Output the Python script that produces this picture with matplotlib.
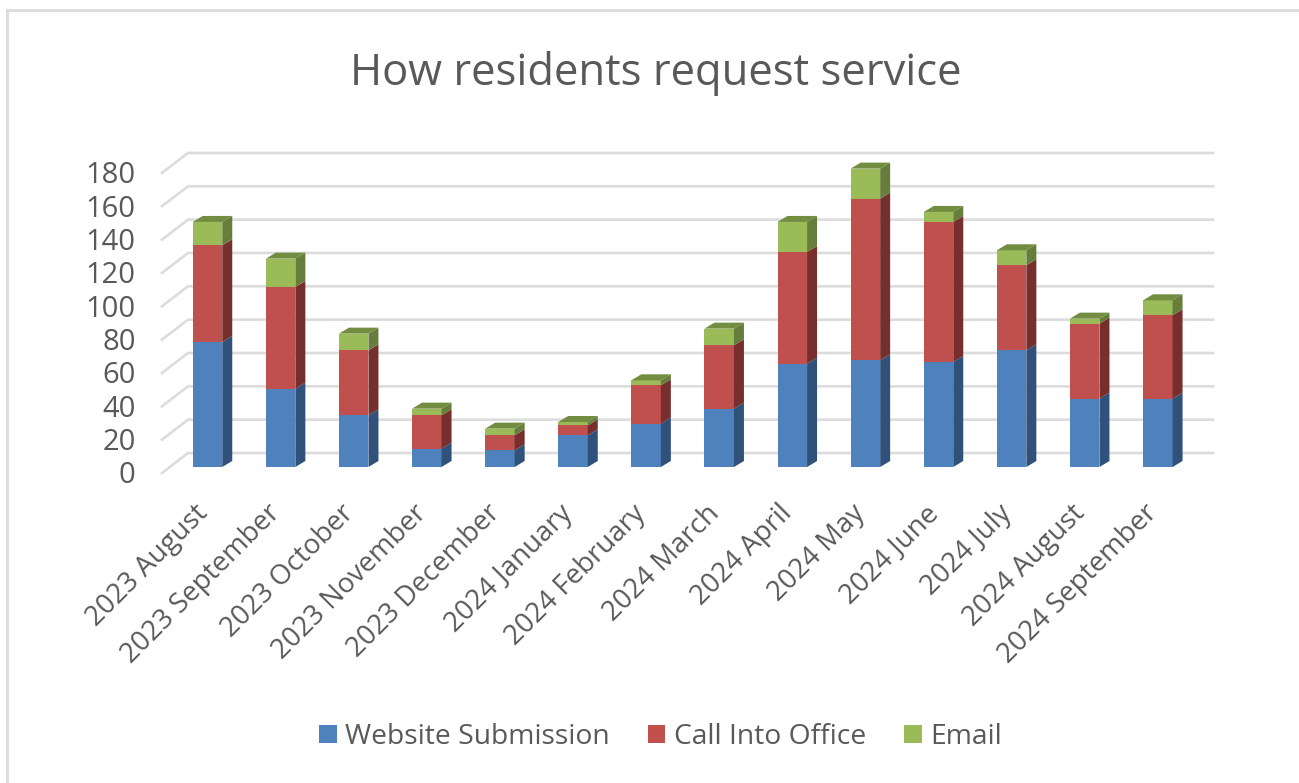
import matplotlib
matplotlib.use("Agg")
import matplotlib.pyplot as plt
from matplotlib.lines import Line2D
from matplotlib.patches import Patch
from matplotlib.transforms import ScaledTranslation
import numpy as np

plt.rcParams['font.family'] = ['Open Sans', 'DejaVu Sans']

categories = ["2023 August", "2023 September", "2023 October", "2023 November", "2023 December",
              "2024 January", "2024 February", "2024 March", "2024 April", "2024 May",
              "2024 June", "2024 July", "2024 August", "2024 September"]
website = [75, 47, 31, 11, 10, 19, 26, 35, 62, 64, 63, 70, 41, 41]
call = [58, 61, 39, 20, 9, 6, 23, 38, 67, 97, 84, 51, 45, 50]
email = [14, 17, 10, 4, 4, 2, 3, 10, 18, 18, 6, 9, 3, 9]
series_names = ["Website Submission", "Call Into Office", "Email"]
yticks = list(range(0, 181, 20))

W, H = 1299, 783
fig = plt.figure(figsize=(W / 100, H / 100), dpi=100, facecolor='white')
ax = fig.add_axes([162 / W, 1 - 473 / H, (1213 - 162) / W, (473 - 153) / H])
PXX = 73.1
PXY = 1.667
ax.set_xlim((162 - 207.5) / PXX, (1213 - 207.5) / PXX)
ax.set_ylim(-6 / PXY, 314 / PXY)
ax.patch.set_visible(False)
for s in ax.spines.values():
    s.set_visible(False)

GRID = '#dcdcdc'
wall_x0, wall_x1 = ax.get_xlim()
wall_dx = 26 / PXX
back_dy = 14 / PXY
front_dy = -6 / PXY
for v in yticks:
    ax.plot([wall_x0, wall_x0 + wall_dx, wall_x1], [v + front_dy, v + back_dy, v + back_dy],
            color=GRID, lw=1.9, solid_joinstyle='miter', zorder=1, clip_on=False)

front = ['#4f81bd', '#c0504d', '#9bbb59']
side = ['#30517a', '#772f2d', '#677d3b']
topc = ['#3f6897', '#99403d', '#728c40']
bw = 29.5 / PXX
dx = 10 / PXX
dy = 6 / PXY
x = np.arange(len(categories))
bottom = np.zeros(len(categories))
stack = [website, call, email]
for k, vals in enumerate(stack):
    vals = np.array(vals, dtype=float)
    tops = bottom + vals
    ax.bar(x, vals, bottom=bottom, width=bw, color=front[k], linewidth=0, zorder=3 + k)
    for xi, b, t in zip(x, bottom, tops):
        xr = xi + bw / 2
        ax.fill([xr, xr + dx, xr + dx, xr], [b, b + dy, t + dy, t], color=side[k], lw=0, zorder=3 + k)
        if k == len(stack) - 1:
            ax.fill([xi - bw / 2, xi - bw / 2 + dx, xr + dx, xr], [t, t + dy, t + dy, t],
                    color=topc[k], lw=0, zorder=3 + k)
    bottom = tops

TXT = '#595959'
ax.set_yticks(yticks)
ax.set_yticklabels([str(v) for v in yticks], fontsize=21, color=TXT)
ax.tick_params(axis='y', length=0, pad=19)
off = ScaledTranslation(0, -5.5 / 100, fig.dpi_scale_trans)
for lab in ax.get_yticklabels():
    lab.set_transform(lab.get_transform() + off)

ax.set_xticks(x)
ax.set_xticklabels(categories, fontsize=19.9, color=TXT, rotation=45, ha='right', rotation_mode='anchor')
ax.tick_params(axis='x', length=0, pad=19)
offx = ScaledTranslation(-14 / 100, 0, fig.dpi_scale_trans)
for lab in ax.get_xticklabels():
    lab.set_transform(lab.get_transform() + offx)

fig.text(656 / W, 1 - 73 / H, "How residents request service", fontsize=31.4, color=TXT, ha='center', va='center')

handles = [Patch(facecolor=c, edgecolor='none') for c in front]
fig.legend(handles, series_names, loc='center', bbox_to_anchor=(660.5 / W, 1 - 737 / H), ncol=3, frameon=False,
           fontsize=20.3, labelcolor=TXT, handlelength=0.62, handleheight=0.6, handletextpad=0.3,
           columnspacing=1.35)

fig.add_artist(Line2D([6.5 / W, 6.5 / W], [0, 1 - 9.5 / H], color='#dcdcdc', lw=2))
fig.add_artist(Line2D([6.5 / W, 1], [1 - 9.5 / H, 1 - 9.5 / H], color='#dcdcdc', lw=2))

fig.savefig('out.png', dpi=100)
